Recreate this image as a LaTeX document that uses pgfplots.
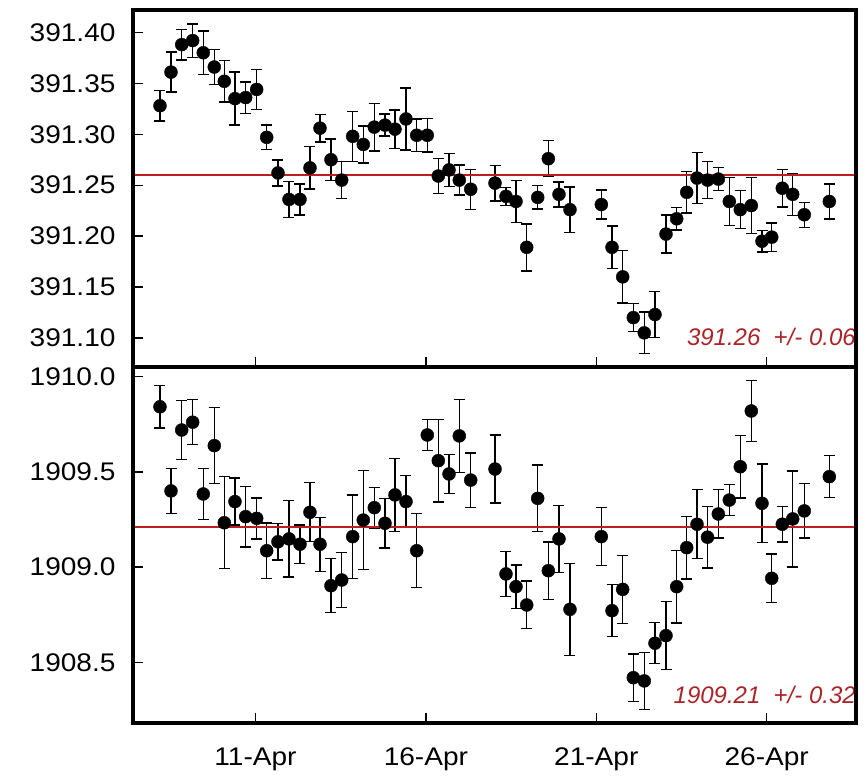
\documentclass[border=0pt]{standalone}
\usepackage{pgfplots}
\pgfplotsset{compat=1.18}
\usepackage{pgfplotstable}
\usepackage{fontspec}
\setmainfont{Liberation Sans}
\newfontfamily\tickfont[FakeStretch=1.1]{Liberation Sans}

\definecolor{meanline}{RGB}{190,30,30}
\definecolor{meantext}{RGB}{172,35,40}

% day of April, value, one-sigma uncertainty
\pgfplotstableread{
d v e
8.198 391.328 0.0151
8.521 391.361 0.0196
8.835 391.388 0.0151
9.157 391.392 0.0164
9.468 391.380 0.0213
9.791 391.366 0.0172
10.085 391.352 0.0204
10.398 391.335 0.0260
10.712 391.336 0.0155
11.035 391.344 0.0196
11.329 391.297 0.0121
11.660 391.262 0.0128
11.983 391.236 0.0177
12.306 391.236 0.0151
12.599 391.267 0.0209
12.893 391.306 0.0136
13.215 391.275 0.0205
13.529 391.255 0.0183
13.852 391.298 0.0246
14.163 391.290 0.0183
14.486 391.307 0.0234
14.800 391.309 0.0108
15.093 391.305 0.0188
15.416 391.315 0.0306
15.730 391.299 0.0159
16.041 391.299 0.0164
16.364 391.259 0.0172
16.678 391.265 0.0161
16.980 391.255 0.0147
17.315 391.246 0.0196
18.028 391.252 0.0175
18.350 391.239 0.0090
18.644 391.234 0.0204
18.958 391.189 0.0231
19.281 391.238 0.0114
19.592 391.276 0.0177
19.905 391.241 0.0123
20.228 391.226 0.0224
21.147 391.231 0.0144
21.461 391.189 0.0209
21.775 391.160 0.0258
22.086 391.120 0.0139
22.408 391.105 0.0204
22.722 391.123 0.0224
23.045 391.202 0.0187
23.359 391.217 0.0111
23.653 391.243 0.0204
23.955 391.257 0.0250
24.263 391.255 0.0183
24.580 391.256 0.0114
24.903 391.234 0.0233
25.225 391.226 0.0187
25.548 391.230 0.0274
25.862 391.195 0.0106
26.147 391.199 0.0139
26.458 391.247 0.0184
26.763 391.241 0.0206
27.103 391.221 0.0123
27.837 391.234 0.0172
}\upperdata

\pgfplotstableread{
d v e
8.198 1909.842 0.111
8.521 1909.400 0.118
8.835 1909.720 0.156
9.157 1909.761 0.118
9.468 1909.384 0.134
9.791 1909.638 0.200
10.085 1909.233 0.242
10.398 1909.344 0.124
10.712 1909.265 0.159
11.035 1909.256 0.108
11.329 1909.086 0.146
11.660 1909.133 0.095
11.983 1909.148 0.201
12.306 1909.120 0.102
12.599 1909.288 0.155
12.893 1909.120 0.142
13.215 1908.902 0.142
13.529 1908.932 0.145
13.852 1909.160 0.219
14.163 1909.247 0.260
14.486 1909.312 0.107
14.800 1909.230 0.129
15.093 1909.379 0.193
15.416 1909.344 0.136
15.730 1909.086 0.194
16.041 1909.694 0.081
16.364 1909.559 0.217
16.678 1909.489 0.102
16.980 1909.689 0.192
17.315 1909.457 0.143
18.028 1909.515 0.179
18.350 1908.964 0.118
18.644 1908.897 0.115
18.958 1908.801 0.125
19.281 1909.361 0.175
19.592 1908.981 0.150
19.905 1909.148 0.177
20.228 1908.778 0.241
21.147 1909.160 0.153
21.461 1908.771 0.136
21.775 1908.883 0.179
22.086 1908.419 0.125
22.408 1908.402 0.149
22.722 1908.600 0.108
23.045 1908.640 0.179
23.359 1908.897 0.191
23.653 1909.102 0.164
23.955 1909.225 0.181
24.263 1909.157 0.161
24.580 1909.279 0.127
24.903 1909.352 0.081
25.225 1909.527 0.165
25.548 1909.820 0.159
25.862 1909.335 0.207
26.147 1908.941 0.127
26.458 1909.225 0.094
26.763 1909.253 0.252
27.103 1909.295 0.143
27.837 1909.475 0.110
}\lowerdata

\pgfplotsset{
  panel/.style={
    scale only axis,
    width=723pt,
    xmin=7.406, xmax=28.62,
    tick align=inside,
    xtick pos=left, ytick pos=left,
    xtick={11,16,21,26},
    major tick length=10pt,
    every tick/.style={black, line width=1.3pt},
    /pgf/number format/assume math mode=true,
    /pgf/number format/1000 sep={},
    tick label style={font=\tickfont\fontsize{25.5}{28}\selectfont},
    yticklabel style={xshift=-14pt},
    clip=false,
  },
  obs/.style={
    only marks, mark=*, black, mark size=6.5pt,
    mark options={line width=0.4pt},
    error bars/.cd, y dir=both, y explicit,
    error bar style={line width=1.4pt, black},
    error mark options={rotate=90, mark size=5.5pt, line width=1.4pt, black},
  },
}

\begin{document}
\begin{tikzpicture}
\useasboundingbox (0pt,0pt) rectangle (868pt,-783pt);

% upper panel
\begin{axis}[panel,
  at={(133pt,-367pt)}, anchor=south west,
  height=357pt,
  ymin=391.0715, ymax=391.422,
  ytick={391.10,391.15,391.20,391.25,391.30,391.35,391.40},
  yticklabel style={/pgf/number format/.cd, fixed, fixed zerofill, precision=2},
  xticklabels={},
]
\addplot[obs] table[x=d, y=v, y error=e] {\upperdata};
\addplot[meanline, line width=2.2pt] coordinates {(7.406,391.26) (28.62,391.26)};
\node[anchor=base east, text=meantext, inner sep=0pt,
      font=\itshape\fontsize{24}{28}\selectfont]
  at (rel axis cs:1,0.0597) {391.26\ \ +/- 0.06};
\draw[black, line width=3.2pt] (rel axis cs:0,0) rectangle (rel axis cs:1,1);
\end{axis}

% lower panel
\begin{axis}[panel,
  at={(133pt,-723pt)}, anchor=south west,
  height=356pt,
  ymin=1908.181, ymax=1910.051,
  ytick={1908.5,1909.0,1909.5,1910.0},
  yticklabel style={/pgf/number format/.cd, fixed, fixed zerofill, precision=1},
  xticklabels={11-Apr,16-Apr,21-Apr,26-Apr},
  xticklabel style={yshift=-21pt},
]
\addplot[obs] table[x=d, y=v, y error=e] {\lowerdata};
\addplot[meanline, line width=2.2pt] coordinates {(7.406,1909.21) (28.62,1909.21)};
\node[anchor=base east, text=meantext, inner sep=0pt,
      font=\itshape\fontsize{24}{28}\selectfont]
  at (rel axis cs:1,0.0553) {1909.21\ \ +/- 0.32};
\draw[black, line width=3.2pt] (rel axis cs:0,0) rectangle (rel axis cs:1,1);
\end{axis}
\end{tikzpicture}
\end{document}
